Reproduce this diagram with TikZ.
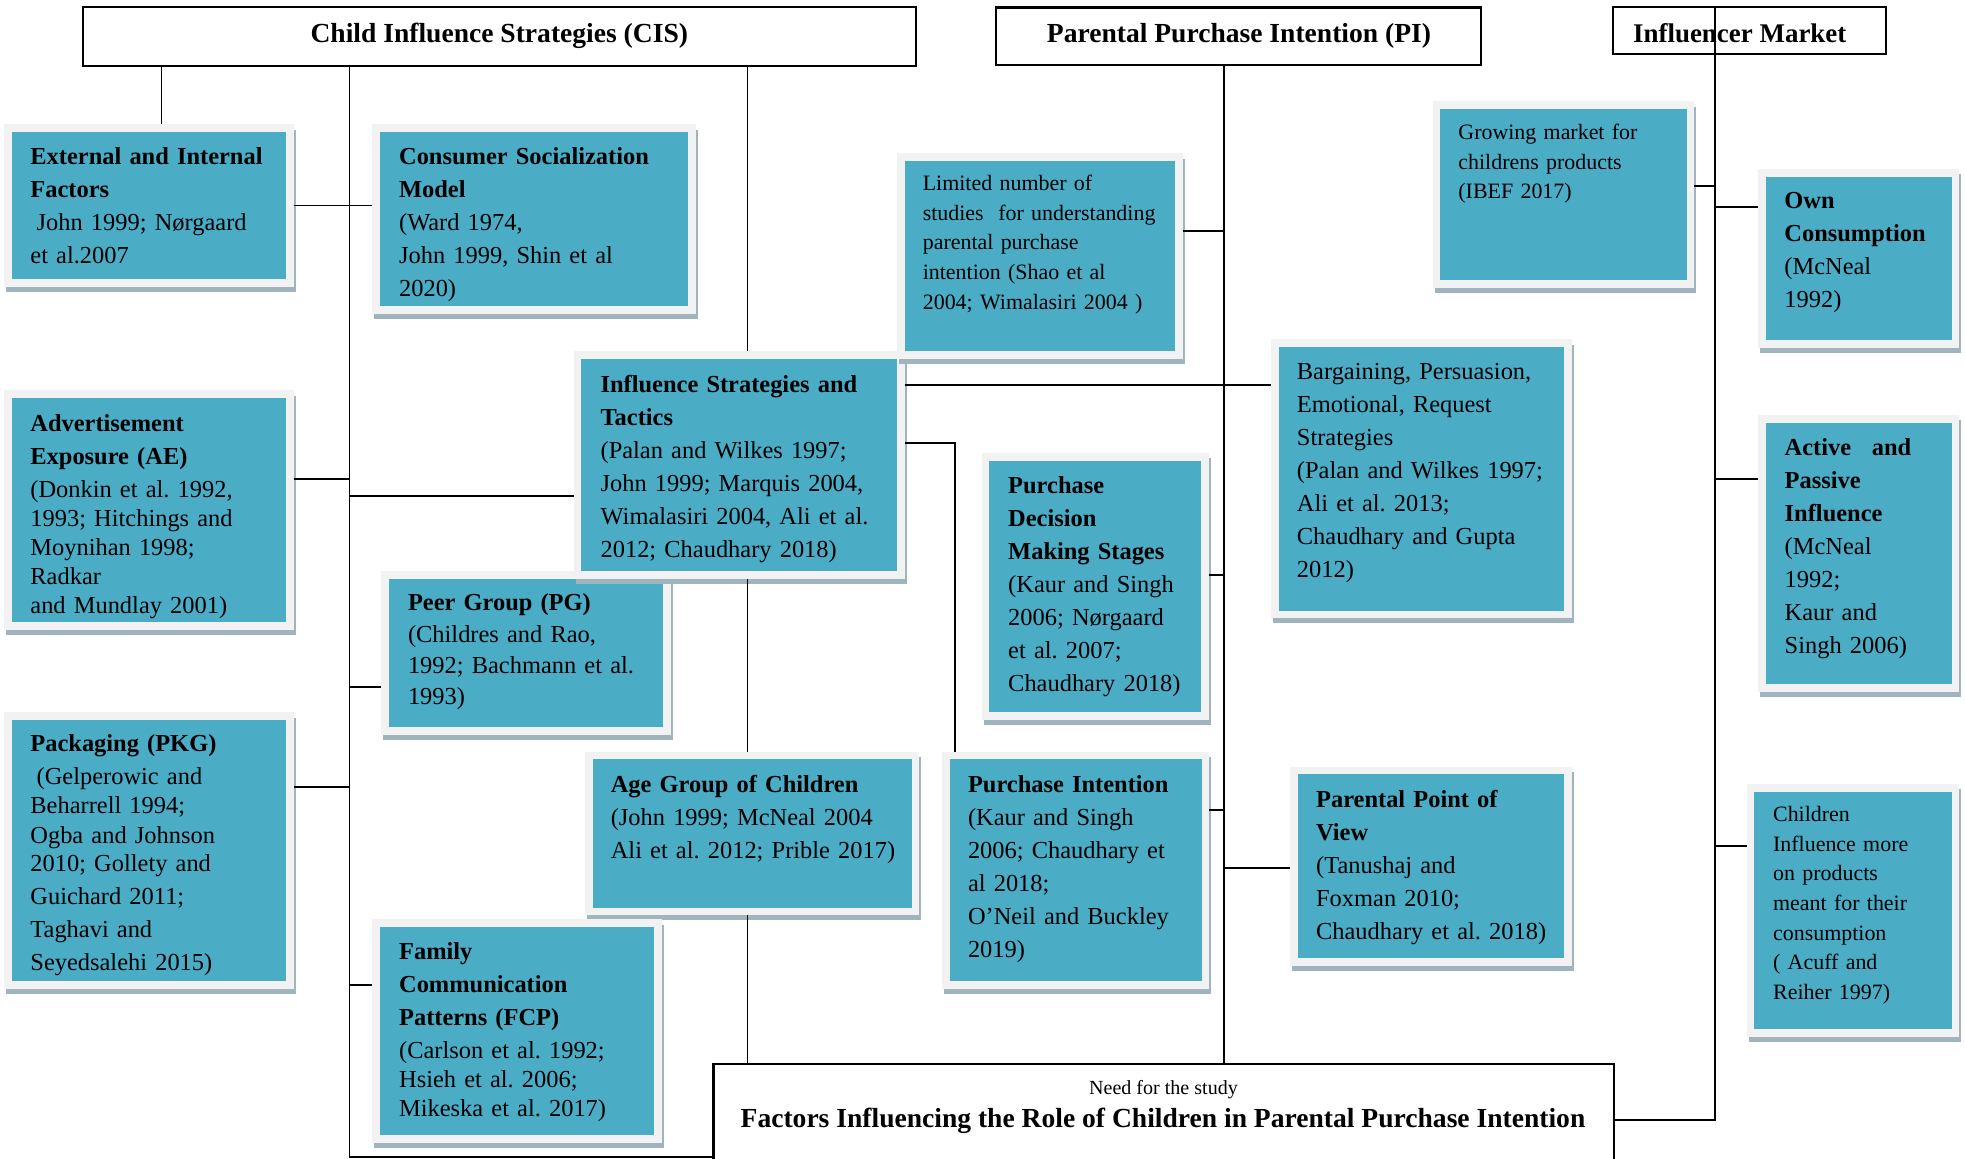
\documentclass[tikz,border=0pt]{standalone}
\usepackage{fontspec}
\setmainfont{Liberation Serif}
\frenchspacing
\definecolor{tealc}{HTML}{4BACC6}
\definecolor{framec}{HTML}{F2F2F2}
\definecolor{shadc}{HTML}{9FB4BD}

% teal card: name, x1, y1, x2, y2 of the coloured area (pixel grid)
\newcommand{\tealbox}[5]{%
  \node[tbox, minimum width={(#4-#2+7.5)*0.4788pt}, minimum height={(#5-#3+7.5)*0.4788pt}]
    (#1) at ({(#2+#4)/2},{(#3+#5)/2}) {};}
% plain outlined box: name, x1, y1, x2, y2
\newcommand{\linebox}[5]{%
  \node[hbox, minimum width={(#4-#2)*0.4788pt}, minimum height={(#5-#3)*0.4788pt}]
    (#1) at ({(#2+#4)/2},{(#3+#5)/2}) {};}

\tikzset{
  tbox/.style={fill=tealc, draw=framec, line width=3.6pt, inner sep=0pt, outer sep=1.8pt,
    preaction={draw=shadc, fill=shadc, line width=3.6pt,
      transform canvas={shift={(0.96pt,-2.4pt)}}}},
  reg/.style={anchor=north west, inner sep=0pt, text width=9cm, align=left,
    font=\fontsize{11.7}{15.8}\selectfont, execute at begin node=\strut},
  sml/.style={anchor=north west, inner sep=0pt, text width=9cm, align=left,
    font=\fontsize{10.5}{14.2}\selectfont, execute at begin node=\strut},
  hbox/.style={draw=black, line width=1pt, fill=white, inner sep=0pt, outer sep=0.5pt},
  htxt/.style={anchor=base, inner sep=0pt, font=\fontsize{13.2}{15.8}\selectfont\bfseries},
  conn/.style={draw=black, line width=0.8pt},
}

\begin{document}
\begin{tikzpicture}[x=0.4788pt, y=-0.4788pt]
\useasboundingbox (0,0) rectangle (1965,1159);
\fill[white] (0,0) rectangle (1965,1159);

% ---------- heading boxes ----------
\linebox{cis}{82.7}{6.7}{916}{65.7}
\linebox{pih}{996.3}{7.5}{1481.3}{65.2}
\linebox{imh}{1612.7}{7.3}{1885.7}{54.3}
\linebox{bot}{713.5}{1064.3}{1614}{1200}

\node[htxt] (cist) at (499.3,43) {Child Influence Strategies (CIS)};
\node[htxt] (pit) at (1239,43) {Parental Purchase Intention (PI)};
\node[htxt, anchor=base west, font=\fontsize{12.9}{15.5}\selectfont\bfseries] (imt) at (1632.7,43) {Influencer Market};
\node[anchor=base, inner sep=0pt, font=\fontsize{9.6}{12}\selectfont] (needt) at (1163.5,1094) {Need for the study};
\node[htxt] (factt) at (1163,1127) {Factors Influencing the Role of Children in Parental Purchase Intention};

% ---------- cards ----------
\tealbox{ext}{12}{132}{286}{279}
\tealbox{csm}{380}{132}{688}{306}
\tealbox{ae}{12}{398}{286}{622}
\tealbox{pg}{389}{579}{663}{727}
\tealbox{pkg}{12}{720}{286}{981}
\tealbox{ist}{581.4}{359}{897}{571}
\tealbox{agc}{592.6}{759.3}{911.8}{907.7}
\tealbox{fcp}{380}{927}{654}{1135}
\tealbox{lim}{904.6}{161}{1175}{351}
\tealbox{pdms}{989}{460.7}{1201.4}{712.3}
\tealbox{pi}{949.7}{759.3}{1201.5}{981}
\tealbox{barg}{1278.7}{347}{1564}{610.7}
\tealbox{ppv}{1297.7}{774.3}{1564.3}{958.3}
\tealbox{grow}{1440}{109}{1686.7}{280}
\tealbox{own}{1765.7}{176.7}{1951.7}{340}
\tealbox{api}{1765.7}{422.7}{1951.7}{684}
\tealbox{chi}{1754}{791.7}{1951.7}{1029.3}

% ---------- card texts ----------
\node[reg] (ext-t) at (30,140.9) {\textbf{External and Internal}\\\textbf{Factors}\\\hspace*{3pt}John 1999; Nørgaard\\et al.2007};
\node[reg] (csm-t) at (398.7,140.9) {\textbf{Consumer Socialization}\\\textbf{Model}\\(Ward 1974,\\John 1999, Shin et al\\2020)};
\node[reg] (ae-t) at (30,407.6) {\textbf{Advertisement}\\\textbf{Exposure (AE)}\\(Donkin et al. 1992,\\[-1.9pt]1993; Hitchings and\\[-1.9pt]Moynihan 1998;\\[-1.9pt]Radkar\\[-1.9pt]and Mundlay 2001)};
\node[reg, font=\fontsize{11.7}{15}\selectfont] (pg-t) at (407.6,588.5) {\textbf{Peer Group (PG)}\\(Childres and Rao,\\1992; Bachmann et al.\\1993)};
\node[reg] (pkg-t) at (30,727.6) {\textbf{Packaging (PKG)}\\\hspace*{3pt}(Gelperowic and\\[-1.9pt]Beharrell 1994;\\[-1.4pt]Ogba and Johnson\\[-2.4pt]2010; Gollety and\\Guichard 2011;\\Taghavi and\\Seyedsalehi 2015)};
\node[reg] (fcp-t) at (398.7,935.9) {\textbf{Family}\\\textbf{Communication}\\\textbf{Patterns (FCP)}\\(Carlson et al. 1992;\\[-1.9pt]Hsieh et al. 2006;\\[-1.9pt]Mikeska et al. 2017)};
\node[reg] (ist-t) at (600.2,368.6) {\textbf{Influence Strategies and}\\\textbf{Tactics}\\(Palan and Wilkes 1997;\\John 1999; Marquis 2004,\\Wimalasiri 2004, Ali et al.\\2012; Chaudhary 2018)};
\node[reg] (agc-t) at (610.4,768.6) {\textbf{Age Group of Children}\\(John 1999; McNeal 2004\\Ali et al. 2012; Prible 2017)};
\node[reg] (pdms-t) at (1007.8,469.6) {\textbf{Purchase}\\\textbf{Decision}\\\textbf{Making Stages}\\(Kaur and Singh\\2006; Nørgaard\\et al. 2007;\\Chaudhary 2018)};
\node[reg] (pi-t) at (967.6,768.6) {\textbf{Purchase Intention}\\(Kaur and Singh\\2006; Chaudhary et\\al 2018;\\O’Neil and Buckley\\2019)};
\node[reg] (barg-t) at (1296.5,355.9) {Bargaining, Persuasion,\\Emotional, Request\\Strategies\\(Palan and Wilkes 1997;\\Ali et al. 2013;\\Chaudhary and Gupta\\2012)};
\node[reg] (ppv-t) at (1315.7,783.6) {\textbf{Parental Point of}\\\textbf{View}\\(Tanushaj and\\Foxman 2010;\\Chaudhary et al. 2018)};
\node[reg] (own-t) at (1784,185.2) {\textbf{Own}\\\textbf{Consumption}\\(McNeal\\1992)};
\node[reg] (api-t) at (1784.3,431.9) {\textbf{Active\hspace*{9.9pt}and}\\\textbf{Passive}\\\textbf{Influence}\\(McNeal\\1992;\\Kaur and\\Singh 2006)};
\node[sml] (lim-t) at (922.4,169.2) {Limited number of\\studies\ \ for understanding\\parental purchase\\intention (Shao et al\\2004; Wimalasiri 2004 )};
\node[sml] (grow-t) at (1458,118.5) {Growing market for\\childrens products\\(IBEF 2017)};
\node[sml] (chi-t) at (1772.7,800.2) {Children\\Influence more\\on products\\meant for their\\consumption\\( Acuff and\\Reiher 1997)};

% ---------- trunk positions ----------
\coordinate (tA) at (161.6,0);
\coordinate (tL) at (349.6,0);
\coordinate (tM) at (747.5,0);
\coordinate (tK) at (955,0);
\coordinate (tP) at (1224.3,0);
\coordinate (tI) at (1715,0);

% ---------- connectors: strategies side ----------
\draw[conn] (cis.south -| tA) -- (ext.north -| tA);
\draw[conn] (cis.south -| tL) -- (tL |- 0,1157) -- (bot.west |- 0,1157);
\draw[conn] (cis.south -| tM) -- (ist.north -| tM);
\draw[conn] (ist.south -| tM) -- (agc.north -| tM);
\draw[conn] (agc.south -| tM) -- (bot.north -| tM);
\draw[conn] (ext.east) -- (ext.east -| csm.west);
\draw[conn] (ae.east |- 0,479) -- (tL |- 0,479);
\draw[conn] (tL |- 0,496) -- (ist.west |- 0,496);
\draw[conn] (tL |- 0,687) -- (pg.west |- 0,687);
\draw[conn] (pkg.east |- 0,787) -- (tL |- 0,787);
\draw[conn] (tL |- 0,985) -- (fcp.west |- 0,985);
\draw[conn] (ist.east |- 0,385) -- (barg.west |- 0,385);
\draw[conn] (ist.east |- 0,443.3) -- (tK |- 0,443.3) -- (pi.north -| tK);

% ---------- connectors: purchase intention side ----------
\draw[conn] (pih.south -| tP) -- (bot.north -| tP);
\draw[conn] (lim.east |- 0,231) -- (tP |- 0,231);
\draw[conn] (pdms.east |- 0,575) -- (tP |- 0,575);
\draw[conn] (pi.east |- 0,810) -- (tP |- 0,810);
\draw[conn] (tP |- 0,867.7) -- (ppv.west |- 0,867.7);

% ---------- connectors: market side ----------
\draw[conn] (imh.north -| tI) -- (tI |- 0,1120) -- (bot.east |- 0,1120);
\draw[conn] (grow.east |- 0,185.7) -- (tI |- 0,185.7);
\draw[conn] (tI |- 0,206.7) -- (own.west |- 0,206.7);
\draw[conn] (tI |- 0,479) -- (api.west |- 0,479);
\draw[conn] (tI |- 0,845.7) -- (chi.west |- 0,845.7);
\end{tikzpicture}
\end{document}
